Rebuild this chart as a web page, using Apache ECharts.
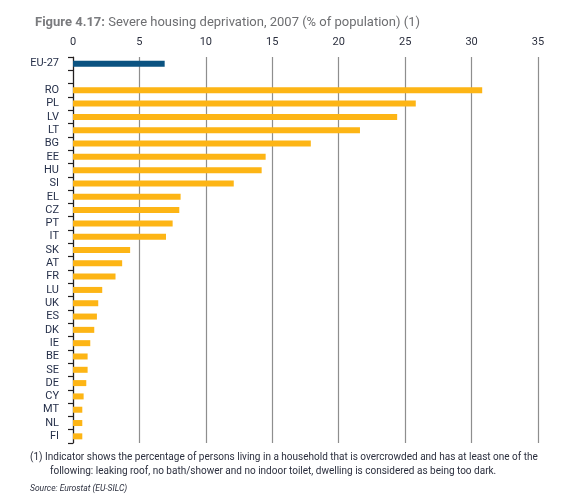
<!DOCTYPE html>
<html><head><meta charset="utf-8">
<script src="https://cdn.jsdelivr.net/npm/echarts@6/dist/echarts.min.js"></script>
<style>html,body{margin:0;padding:0;background:#fff}#c{width:567px;height:500px}</style>
</head><body><div id="c"></div>
<script>
const categories = ['EU-27','','RO','PL','LV','LT','BG','EE','HU','SI','EL','CZ','PT','IT','SK','AT','FR','LU','UK','ES','DK','IE','BE','SE','DE','CY','MT','NL','FI'];
const values = [6.9,null,30.8,25.8,24.4,21.6,17.9,14.5,14.2,12.1,8.1,8.0,7.5,7.0,4.3,3.7,3.2,2.2,1.9,1.8,1.6,1.3,1.1,1.1,1.0,0.8,0.7,0.7,0.7];
const xTicks = [0,5,10,15,20,25,30,35];
const highlight = 'EU-27';

const FONT = "'Roboto', sans-serif";
const chart = echarts.init(document.getElementById('c'), null, {renderer:'canvas'});
chart.setOption({
  animation:false,
  backgroundColor:'#fff',
  title:{
    left:30, top:11,
    text:'{b|Figure 4.17:}{n| Severe housing deprivation, 2007 (% of population) (1)}',
    textStyle:{fontWeight:'normal', rich:{
      b:{fontFamily:FONT,fontSize:13,fontWeight:'bold',color:'#7a7b7e'},
      n:{fontFamily:FONT,fontSize:13,fontWeight:'normal',color:'#6d6e71'}
    }}
  },
  grid:{left:73, top:57, width:465, height:386, containLabel:false},
  xAxis:{
    type:'value', position:'top', min:xTicks[0], max:xTicks[xTicks.length-1], interval:5,
    axisLine:{show:false}, axisTick:{show:false},
    axisLabel:{color:'#2b2f3e', fontFamily:FONT, fontSize:11, margin:9},
    splitLine:{show:true, lineStyle:{color:'#8e8e8e', width:1.2}}
  },
  yAxis:{
    type:'category', inverse:true, data:categories,
    axisLine:{show:true, lineStyle:{color:'#231f20', width:1.2}},
    axisTick:{show:true, length:5, interval:0, lineStyle:{color:'#231f20', width:1.2}},
    axisLabel:{interval:0, color:'#26304a', fontFamily:FONT, fontSize:11, margin:14}
  },
  series:[{
    type:'bar', barWidth:6,
    data: values.map((v,i)=>({value:v, itemStyle:{color: categories[i]===highlight ? '#0b5381' : '#fdb515'}}))
  }],
  graphic:[
    {type:'text', left:30, top:452, style:{text:'(1) Indicator shows the percentage of persons living in a household that is overcrowded and has at least one of the', font:"10px "+FONT, fill:'#2b2f3e'}},
    {type:'text', left:50, top:466, style:{text:'following: leaking roof, no bath/shower and no indoor toilet, dwelling is considered as being too dark.', font:"10px "+FONT, fill:'#2b2f3e'}},
    {type:'text', left:30, top:484, style:{text:'Source: Eurostat (EU-SILC)', font:"italic 8.5px "+FONT, fill:'#2b2f3e'}}
  ]
});
</script></body></html>
